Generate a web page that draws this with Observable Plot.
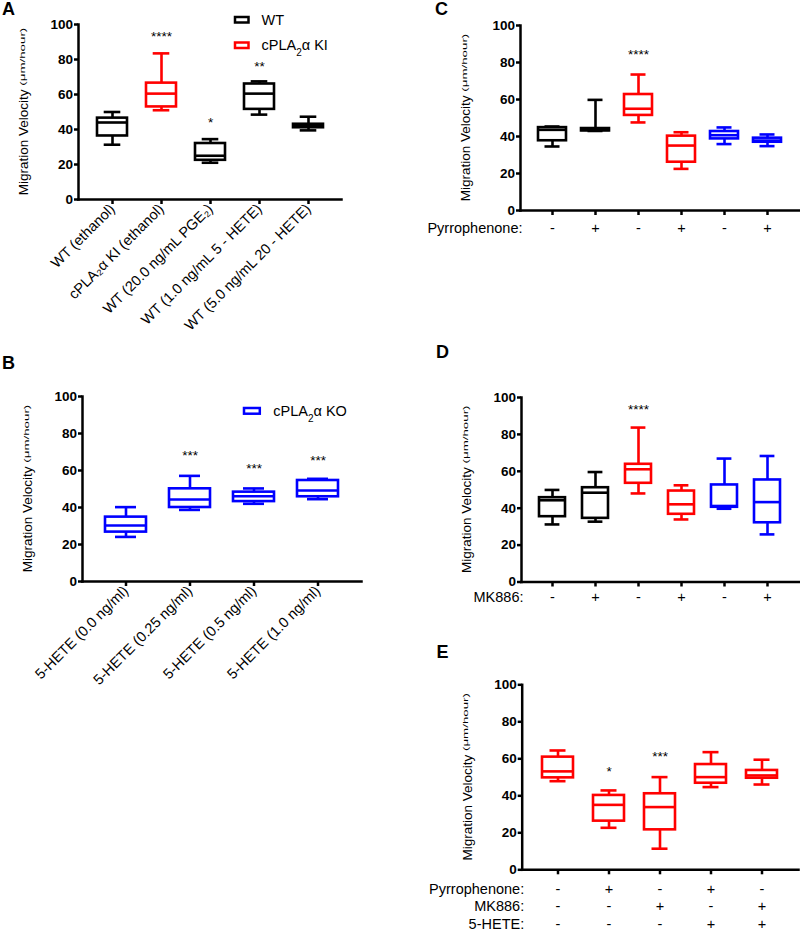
<!DOCTYPE html>
<html><head><meta charset="utf-8">
<script src="https://cdn.jsdelivr.net/npm/d3@7"></script>
<script src="https://cdn.jsdelivr.net/npm/@observablehq/plot@0.6"></script>
<style>
body{margin:0;background:#fff;}
#fig{position:relative;width:800px;height:935px;font-family:"Liberation Sans",Arial,sans-serif;overflow:hidden;}
.letter{position:absolute;font-weight:bold;font-size:18px;line-height:18px;font-family:"Liberation Sans",Arial,sans-serif;}
</style></head><body><div id="fig"></div>
<script>
const BLACK = "#000000", RED = "#ff0000", BLUE = "#0000ff";
const yTicks = [0, 20, 40, 60, 80, 100];

// ---- Panel A ----
const aGroups = ["WT (ethanol)", "cPLA₂α KI (ethanol)", "WT (20.0 ng/mL PGE₂)", "WT (1.0 ng/mL 5 - HETE)", "WT (5.0 ng/mL 20 - HETE)"];
const aColors = [BLACK, RED, BLACK, BLACK, BLACK];
const aMin = [31.3, 51.0, 21.0, 48.5, 39.5];
const aQ1  = [36.3, 52.9, 22.4, 51.5, 41.0];
const aMed = [44.0, 60.5, 25.0, 60.5, 42.0];
const aQ3  = [46.5, 66.5, 32.0, 66.0, 43.0];
const aMax = [50.0, 83.5, 34.5, 67.5, 47.3];
const aStars = ["", "****", "*", "**", ""];
const aStarY = [null, 94.7, 45.8, 77.4, null];

// ---- Panel B ----
const bGroups = ["5-HETE (0.0 ng/ml)", "5-HETE (0.25 ng/ml)", "5-HETE (0.5 ng/ml)", "5-HETE (1.0 ng/ml)"];
const bColors = [BLUE, BLUE, BLUE, BLUE];
const bMin = [24.1, 38.7, 42.0, 44.5];
const bQ1  = [26.7, 40.0, 43.2, 45.8];
const bMed = [30.3, 44.3, 46.1, 49.2];
const bQ3  = [34.8, 50.1, 48.3, 54.6];
const bMax = [40.2, 57.1, 50.3, 55.5];
const bStars = ["", "***", "***", "***"];
const bStarY = [null, 69.4, 62.7, 66.7];

// ---- Panel C ----
const cGroups = ["WT", "WT + Pyr", "KI", "KI + Pyr", "KO", "KO + Pyr"];
const cColors = [BLACK, BLACK, RED, RED, BLUE, BLUE];
const cMin = [34.6, 43.0, 47.6, 22.5, 35.9, 34.8];
const cQ1  = [37.7, 43.0, 51.4, 26.1, 38.7, 36.9];
const cMed = [43.6, 43.6, 55.0, 35.1, 40.7, 37.8];
const cQ3  = [44.8, 44.3, 62.7, 40.2, 42.7, 39.1];
const cMax = [45.4, 59.8, 73.5, 42.3, 44.9, 41.1];
const cStars = ["", "", "****", "", "", ""];
const cStarY = [null, null, 85.6, null, null, null];
const cPyrrophenone = ["-", "+", "-", "+", "-", "+"];

// ---- Panel D ----
const dGroups = ["WT", "WT + MK886", "KI", "KI + MK886", "KO", "KO + MK886"];
const dColors = [BLACK, BLACK, RED, RED, BLUE, BLUE];
const dMin = [31.2, 32.7, 48.0, 33.9, 39.7, 25.8];
const dQ1  = [35.4, 34.5, 53.5, 36.7, 40.5, 32.1];
const dMed = [44.3, 48.4, 61.1, 42.1, 41.2, 43.3];
const dQ3  = [45.7, 51.1, 63.8, 49.3, 52.6, 55.3];
const dMax = [49.9, 59.6, 83.7, 52.4, 66.9, 68.3];
const dStars = ["", "", "****", "", "", ""];
const dStarY = [null, null, 95.0, null, null, null];
const dMK886 = ["-", "+", "-", "+", "-", "+"];

// ---- Panel E ----
const eGroups = ["KI", "KI + Pyr", "KI + MK886", "KI + Pyr + 5-HETE", "KI + MK886 + 5-HETE"];
const eColors = [RED, RED, RED, RED, RED];
const eMin = [47.9, 22.7, 11.4, 44.7, 46.1];
const eQ1  = [49.7, 26.3, 21.6, 46.8, 49.5];
const eMed = [53.2, 35.1, 33.9, 50.1, 51.0];
const eQ3  = [60.9, 40.2, 41.1, 56.9, 53.7];
const eMax = [64.5, 42.9, 50.1, 63.6, 59.5];
const eStars = ["", "*", "***", "", ""];
const eStarY = [null, 54.6, 62.7, null, null];
const ePyrrophenone = ["-", "+", "-", "+", "-"];
const eMK886 = ["-", "-", "+", "-", "+"];
const e5HETE = ["-", "-", "-", "+", "+"];

const fig = document.getElementById("fig");
const FONT = '"Liberation Sans", Arial, sans-serif';

function panel(o) {
  const data = o.groups.map((g, i) => ({g, color: o.colors[i], min: o.min[i], q1: o.q1[i], med: o.med[i], q3: o.q3[i], max: o.max[i], star: o.stars[i], starY: o.starY[i]}));
  const sw = 2.6;
  const marks = [
    Plot.ruleX(data, {x: "g", y1: "min", y2: "max", stroke: "color", strokeWidth: sw}),
    Plot.barY(data, {x: "g", y1: "q1", y2: "q3", fill: "white", stroke: "color", strokeWidth: sw}),
    Plot.tickY(data, {x: "g", y: "med", stroke: "color", strokeWidth: sw}),
    Plot.tickY(data, {x: "g", y: "min", stroke: "color", strokeWidth: sw, insetLeft: o.cap, insetRight: o.cap}),
    Plot.tickY(data, {x: "g", y: "max", stroke: "color", strokeWidth: sw, insetLeft: o.cap, insetRight: o.cap}),
    Plot.text(data.filter(d => d.star), {x: "g", y: "starY", text: "star", fontSize: 13.5, dy: 3, fill: "black"}),
    Plot.axisY({ticks: yTicks, tickSize: 4, tickPadding: 1.5, fontSize: 13.5, fontWeight: "bold", strokeWidth: 2.5, label: null}),
    Plot.frame({anchor: "left", strokeWidth: 2.5}),
    Plot.frame({anchor: "bottom", strokeWidth: 2.5})
  ];
  if (o.rotated) {
    marks.push(Plot.axisX({tickRotate: -45, tickSize: 5, tickPadding: 2, fontSize: 14.5, strokeWidth: 2.5, label: null}));
  } else {
    marks.push(Plot.axisX({tickSize: 5, tickFormat: () => "", strokeWidth: 2.5, label: null}));
    o.rows.forEach(r => {
      marks.push(Plot.text(o.groups.map((g, i) => ({g, s: r.values[i]})), {x: "g", text: "s", frameAnchor: "bottom", dy: r.dy, fontSize: 14.5, fill: "black"}));
      marks.push(Plot.text([r.title], {text: d => d, frameAnchor: "bottom-left", textAnchor: "end", dx: 2, dy: r.dy, fontSize: 14.5, fill: "black"}));
    });
  }
  const svg = Plot.plot({
    width: o.width, height: o.height,
    marginTop: o.mt, marginBottom: o.mb, marginLeft: o.ml, marginRight: o.mr,
    x: {type: "band", domain: o.groups, paddingInner: o.pi, paddingOuter: o.po, label: null},
    y: {domain: [0, 100], label: null},
    color: {type: "identity"},
    style: {fontFamily: FONT, background: "transparent", overflow: "visible", color: "black"},
    marks
  });
  svg.style.position = "absolute";
  svg.style.left = o.left + "px";
  svg.style.top = o.top + "px";
  // y axis title with superscript unit
  const cx = o.ml - 50, cy = (o.mt + o.height - o.mb) / 2;
  const t = d3.select(svg).append("text")
    .attr("transform", `translate(${cx},${cy}) rotate(-90)`)
    .attr("text-anchor", "middle").attr("font-size", 13.5).attr("fill", "black")
    .attr("font-family", FONT);
  t.append("tspan").text("Migration Velocity ");
  t.append("tspan").attr("font-size", 8).attr("dy", -3.5)
    .attr("textLength", 58).attr("lengthAdjust", "spacingAndGlyphs").text("(μm/hour)");
  fig.appendChild(svg);
  return svg;
}

function legendItem(svg, x, y, w, h, color, parts, tx) {
  const s = d3.select(svg);
  s.append("rect").attr("x", x).attr("y", y).attr("width", w).attr("height", h)
    .attr("fill", "white").attr("stroke", color).attr("stroke-width", 2.5);
  const t = s.append("text").attr("x", tx).attr("y", y + h / 2).attr("dy", "0.36em")
    .attr("text-anchor", "start")
    .attr("font-size", 14.5).attr("font-family", FONT).attr("fill", "black");
  parts.forEach(p => {
    const ts = t.append("tspan").text(p.t);
    if (p.sub) ts.attr("font-size", 10).attr("baseline-shift", "sub");
  });
}

const A = panel({groups: aGroups, colors: aColors, min: aMin, q1: aQ1, med: aMed, q3: aQ3, max: aMax, stars: aStars, starY: aStarY,
  left: 0, top: 0, width: 360, height: 345, mt: 24, mb: 146, ml: 78, mr: 19, pi: 0.39, po: 0.365, cap: 6.7, rotated: true});
legendItem(A, 235, 17, 13.5, 5.5, BLACK, [{t: "WT"}], 261.5);
legendItem(A, 235, 42.5, 13.5, 5.5, RED, [{t: "cPLA"}, {t: "2", sub: true}, {t: "α KI"}], 261.5);

const B = panel({groups: bGroups, colors: bColors, min: bMin, q1: bQ1, med: bMed, q3: bQ3, max: bMax, stars: bStars, starY: bStarY,
  left: 0, top: 380, width: 380, height: 330, mt: 16, mb: 129, ml: 82, mr: 19, pi: 0.355, po: 0.35, cap: 10, rotated: true});
legendItem(B, 244, 28, 15.8, 5.7, BLUE, [{t: "cPLA"}, {t: "2", sub: true}, {t: "α KO"}], 273.3);

panel({groups: cGroups, colors: cColors, min: cMin, q1: cQ1, med: cMed, q3: cQ3, max: cMax, stars: cStars, starY: cStarY,
  left: 400, top: 0, width: 400, height: 245, mt: 25, mb: 35, ml: 120, mr: 1, pi: 0.36, po: 0.36, cap: 6.5,
  rows: [{title: "Pyrrophenone:", values: cPyrrophenone, dy: 22}]});

panel({groups: dGroups, colors: dColors, min: dMin, q1: dQ1, med: dMed, q3: dQ3, max: dMax, stars: dStars, starY: dStarY,
  left: 400, top: 360, width: 400, height: 250, mt: 37, mb: 28.5, ml: 121, mr: 1, pi: 0.39, po: 0.375, cap: 5.6,
  rows: [{title: "MK886:", values: dMK886, dy: 20.2}]});

panel({groups: eGroups, colors: eColors, min: eMin, q1: eQ1, med: eMed, q3: eQ3, max: eMax, stars: eStars, starY: eStarY,
  left: 400, top: 650, width: 400, height: 285, mt: 34.3, mb: 65.7, ml: 121.7, mr: 2, pi: 0.385, po: 0.35, cap: 7.5,
  rows: [{title: "Pyrrophenone:", values: ePyrrophenone, dy: 23.7}, {title: "MK886:", values: eMK886, dy: 41.4}, {title: "5-HETE:", values: e5HETE, dy: 59}]});

// panel letters
[["A", 2, 0], ["B", 2, 353.6], ["C", 435, 0], ["D", 436, 342.6], ["E", 436.5, 642.6]].forEach(([l, x, y]) => {
  const d = document.createElement("div");
  d.className = "letter"; d.textContent = l;
  d.style.left = x + "px"; d.style.top = y + "px";
  fig.appendChild(d);
});
</script></body></html>
